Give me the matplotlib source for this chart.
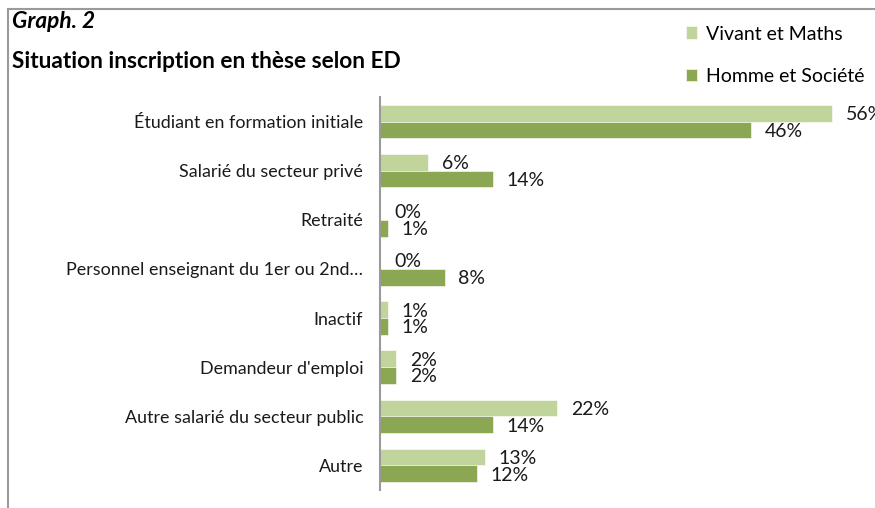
import matplotlib
matplotlib.use('Agg')
import matplotlib.pyplot as plt
from matplotlib.lines import Line2D
import numpy as np

plt.rcParams['font.family'] = ['Lato', 'DejaVu Sans']

categories = ["Étudiant en formation initiale", "Salarié du secteur privé", "Retraité",
              "Personnel enseignant du 1er ou 2nd…", "Inactif", "Demandeur d'emploi",
              "Autre salarié du secteur public", "Autre"]
vivant = [56, 6, 0, 0, 1, 2, 22, 13]
homme = [46, 14, 1, 8, 1, 2, 14, 12]
series_names = ["Vivant et Maths", "Homme et Société"]

c_light = '#C0D49C'
c_dark = '#8CA753'

W, H = 875, 508
fig = plt.figure(figsize=(W / 100, H / 100), dpi=100)
ax = fig.add_axes([380 / W, 18 / H, 484 / W, 393 / H])

y = np.arange(len(categories))
h = 0.34
b1 = ax.barh(y - h / 2, vivant, height=h, color=c_light, edgecolor='white', linewidth=0.4, label=series_names[0])
b2 = ax.barh(y + h / 2, homme, height=h, color=c_dark, edgecolor='white', linewidth=0.4, label=series_names[1])

for bars, vals in ((b1, vivant), (b2, homme)):
    for bar, v in zip(bars, vals):
        ax.annotate(f"{v}%", (bar.get_width(), bar.get_y() + bar.get_height() / 2),
                    xytext=(10, -1), textcoords='offset points', ha='left', va='center',
                    fontsize=14, color='#1a1a1a', annotation_clip=False)

ax.set_xlim(0, 60)
ax.set_ylim(len(categories) - 0.5, -0.5)
ax.set_yticks(y)
ax.set_yticklabels(categories, fontsize=12.9, color='#1a1a1a')
ax.tick_params(axis='y', length=0, pad=12)
ax.set_xticks([])
for s in ['top', 'right', 'bottom']:
    ax.spines[s].set_visible(False)
ax.spines['left'].set_color('#9a9a9a')
ax.spines['left'].set_linewidth(1.5)

# legend
fig.legend(handles=[b1, b2], labels=series_names, loc='upper left',
           bbox_to_anchor=(668 / W, 1 - 8 / H), frameon=False, fontsize=14,
           handlelength=0.6, handleheight=0.6, handletextpad=0.45, labelspacing=1.3)

# titles
fig.text(12 / W, 1 - 21 / H, "Graph. 2", fontsize=16.3, fontweight='bold', fontstyle='italic', va='center')
fig.text(12 / W, 1 - 61 / H, "Situation inscription en thèse selon ED", fontsize=16.3, fontweight='bold', va='center')

# outer frame
fy = 1 - 9 / H
fig.add_artist(Line2D([8 / W, 1], [fy, fy], color='#9a9a9a', linewidth=1.5, transform=fig.transFigure))
fig.add_artist(Line2D([8 / W, 8 / W], [0, fy], color='#9a9a9a', linewidth=1.5, transform=fig.transFigure))

fig.savefig('out.png', dpi=100)
